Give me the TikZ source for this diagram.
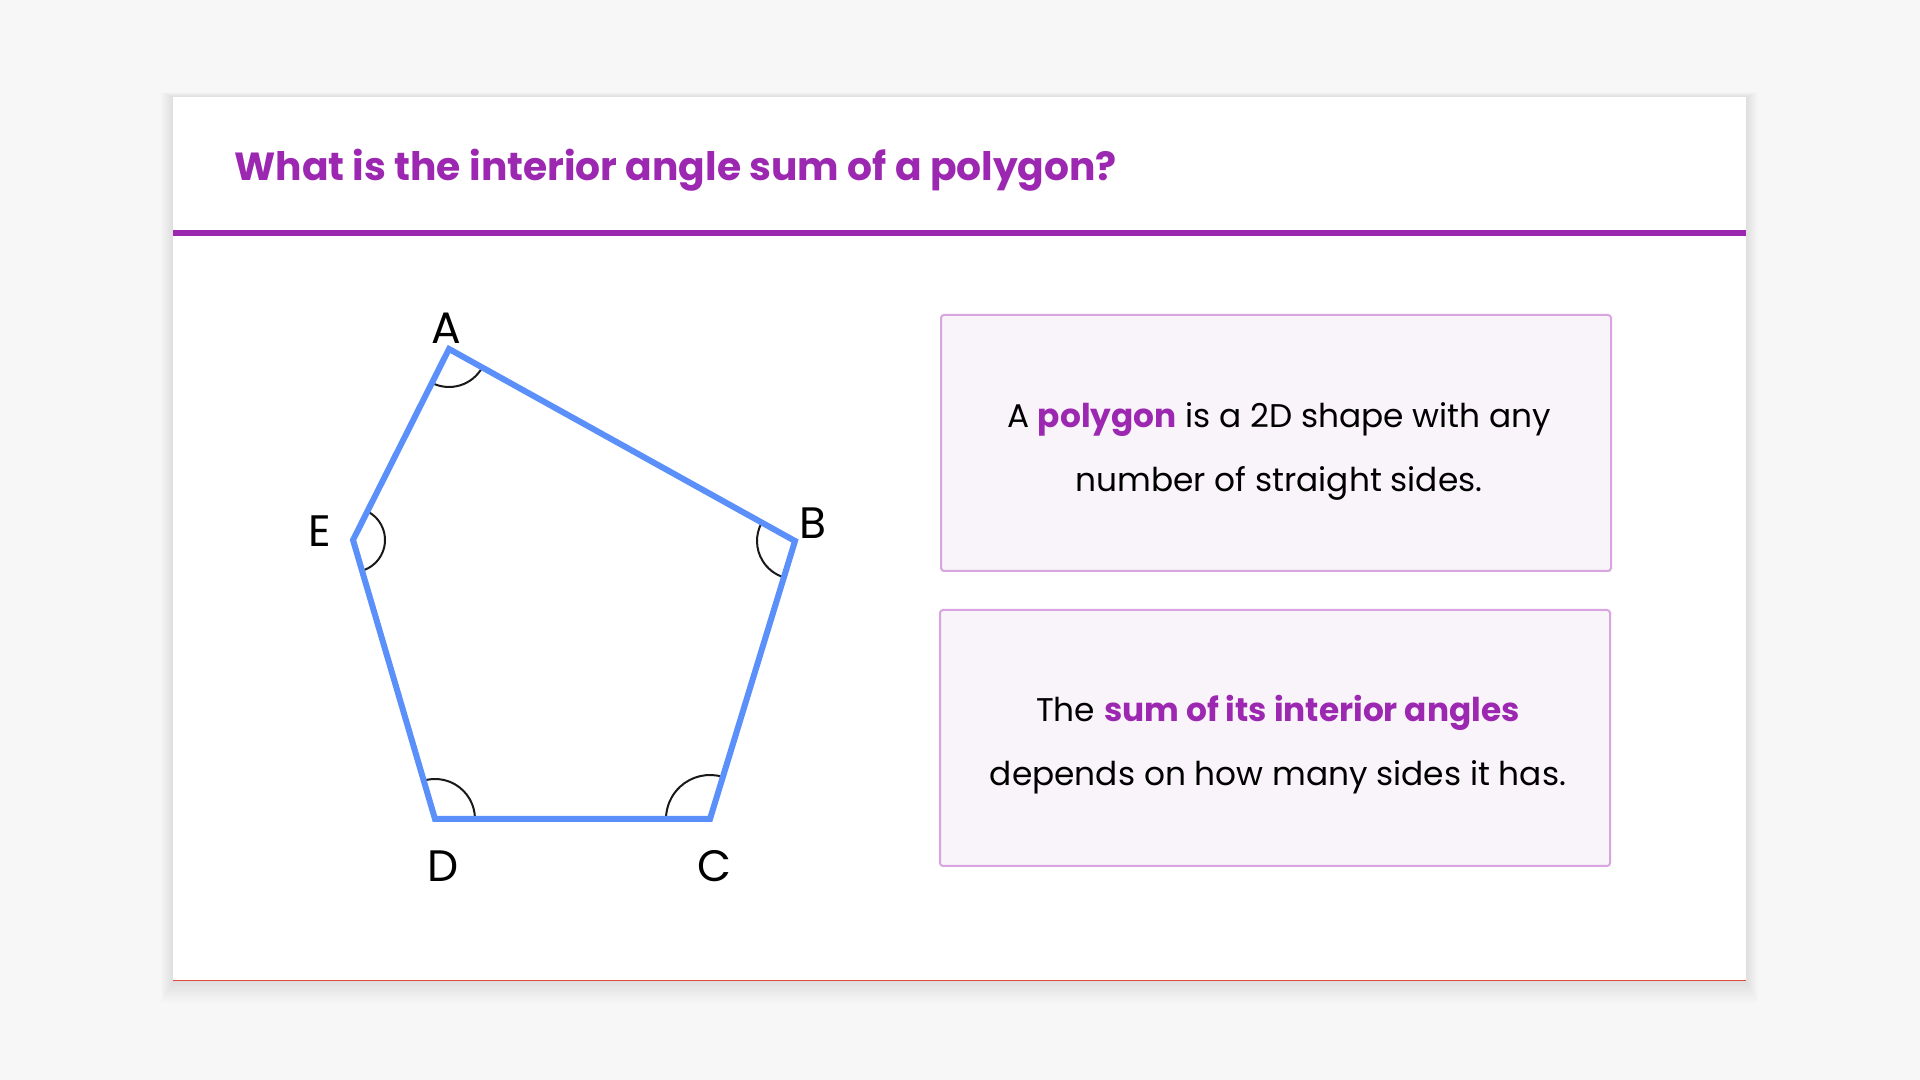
\documentclass[tikz,border=0pt]{standalone}
\usepackage{fontspec}
\setmainfont{Poppins}
\usetikzlibrary{angles}

\definecolor{pagebg}{HTML}{F7F7F7}
\definecolor{accent}{HTML}{9C27B0}
\definecolor{boxline}{HTML}{D8A5E0}
\definecolor{boxfill}{HTML}{F9F4FA}
\definecolor{edgeblue}{HTML}{5B8FF9}
\definecolor{cardred}{HTML}{E04B3B}

\begin{document}
\begin{tikzpicture}[x=0.5pt,y=0.5pt]
\tikzstyle{vlabel}=[font=\fontsize{22}{26}\selectfont, text=black, inner sep=0pt]
\tikzstyle{infobox}=[draw=boxline, line width=1pt, fill=boxfill, rounded corners=1.5pt, minimum width=335pt, minimum height=128pt]
\tikzstyle{infotext}=[align=center, inner sep=0pt, font=\fontsize{16.4}{32}\selectfont]
\tikzstyle{anglemark}=[draw=black!90, line width=1pt]

\useasboundingbox (0,0) rectangle (1920,1080);
\fill[pagebg] (0,0) rectangle (1920,1080);

% card with soft shadow
\foreach \i in {1,...,12}
  \fill[black, opacity=0.006] (173-\i,99-1.8*\i) rectangle (1746+\i,983+0.4*\i);
\fill[white] (173,99) rectangle (1746,983);
\draw[cardred, line width=0.5pt] (173,99) -- (1746,99);

% title and rule
\node (title) at (234,910) [anchor=west, inner sep=0pt, text=accent, font=\fontsize{19.6}{23}\selectfont\bfseries] {What is the interior angle sum of a polygon?};
\fill[accent] (173,844) rectangle (1746,850);

% pentagon
\coordinate (A) at (449,731);
\coordinate (B) at (795,539);
\coordinate (C) at (710,261);
\coordinate (D) at (435,261);
\coordinate (E) at (353,540);

\pic[anglemark, angle radius=19pt] {angle = E--A--B};
\pic[anglemark, angle radius=19pt] {angle = A--B--C};
\pic[anglemark, angle radius=22pt] {angle = B--C--D};
\pic[anglemark, angle radius=20pt] {angle = C--D--E};
\pic[anglemark, angle radius=16pt] {angle = D--E--A};

\draw[edgeblue, line width=3pt] (A) -- (B) -- (C) -- (D) -- (E) -- cycle;

\node (lA) at (446,752) [vlabel] {A};
\node (lB) at (813,557) [vlabel] {B};
\node (lC) at (714,214) [vlabel] {C};
\node (lD) at (443,214) [vlabel] {D};
\node (lE) at (320,549) [vlabel] {E};

% text boxes
\node (box1) at (1276,637) [infobox] {};
\node (txt1) at (1279,629) [infotext] {A \textbf{\color{accent}polygon} is a 2D shape with any\\number of straight sides.};
\node (box2) at (1275,342) [infobox] {};
\node (txt2) at (1278,335) [infotext] {The \textbf{\color{accent}sum of its interior angles}\\depends on how many sides it has.};
\end{tikzpicture}
\end{document}
